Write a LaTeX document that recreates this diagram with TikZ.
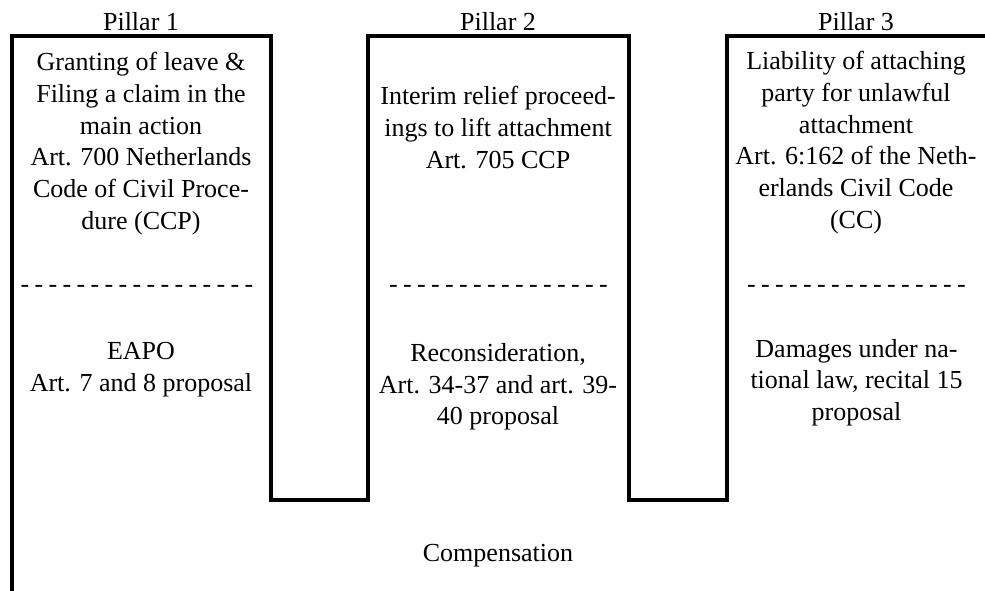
\documentclass[tikz,border=0pt]{standalone}
\usepackage{fontspec}
\setmainfont{Liberation Serif}
\newcommand\tightspaces{\spaceskip=4pt\relax}
\begin{document}
\begin{tikzpicture}[x=0.75pt,y=-0.75pt,
  txt/.style={align=center,inner sep=0pt,font=\fontsize{19.5}{23.8}\selectfont},
  sep/.style={inner sep=0pt,font=\fontsize{19.5}{23.8}\selectfont},
  outline/.style={line width=3pt,miter limit=10,line join=miter}]
\useasboundingbox (0,0) rectangle (985,590);

% the three pillars and the common base, drawn as one outline
\draw[outline] (11.5,592) -- (11.5,35.5) -- (271,35.5) -- (271,500)
  -- (368,500) -- (368,35.5) -- (628.5,35.5) -- (628.5,500)
  -- (727,500) -- (727,35.5) -- (990,35.5);

% pillar headings
\node[txt] (h1) at (141,21.5) {Pillar 1};
\node[txt] (h2) at (498,21.5) {Pillar 2};
\node[txt] (h3) at (856,21.5) {Pillar 3};

% national law
\node[txt] (n1) at (141,143.5) {Granting of leave \&\\Filing a claim in the\\main action\\Art. 700 Netherlands\\Code of Civil Proce-\\dure (CCP)};
\node[txt] (n2) at (498,127.5) {Interim relief proceed-\\ings to lift attachment\\Art. 705 CCP};
\node[txt] (n3) at (856,142.5) {Liability of attaching\\party for unlawful\\attachment\\Art. 6:162 of the Neth-\\erlands Civil Code\\(CC)};

% separators
\node[sep] (s1) at (137,289) {\tightspaces - - - - - - - - - - - - - - - - -};
\node[sep] (s2) at (498.5,289) {\tightspaces - - - - - - - - - - - - - - - -};
\node[sep] (s3) at (856.5,289) {\tightspaces - - - - - - - - - - - - - - - -};

% EAPO proposal
\node[txt] (e1) at (141,370) {EAPO\\Art. 7 and 8 proposal};
\node[txt] (e2) at (498,387) {Reconsideration,\\Art. 34-37 and art. 39-\\40 proposal};
\node[txt] (e3) at (856.5,382.5) {Damages under na-\\tional law, recital 15\\proposal};

% base
\node[txt] (base) at (498,555.5) {Compensation};
\end{tikzpicture}
\end{document}
